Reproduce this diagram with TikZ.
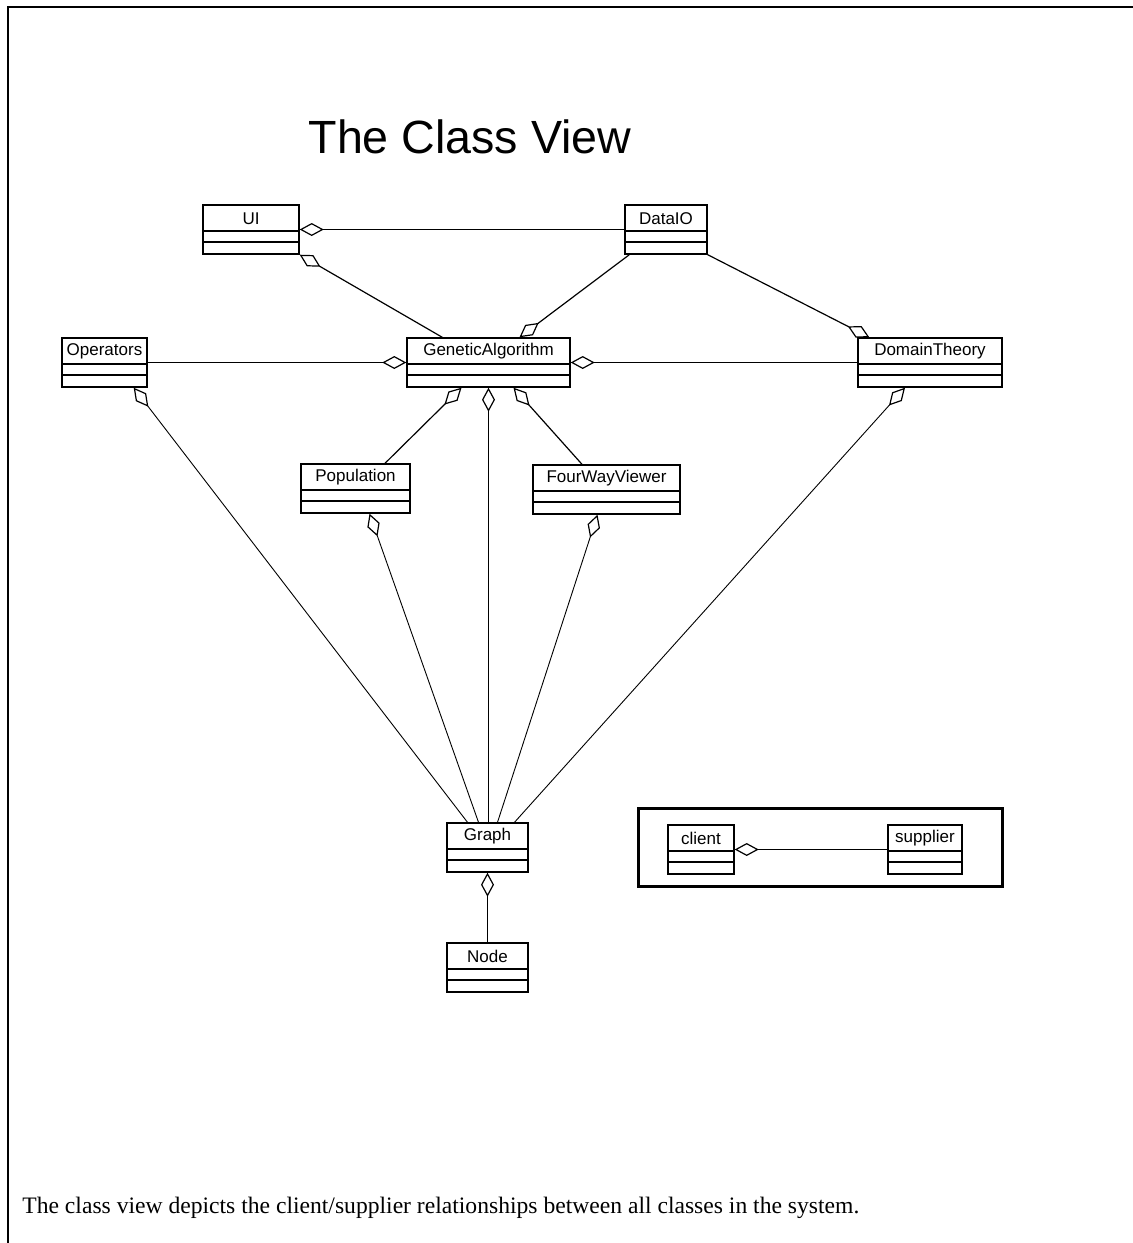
\documentclass[tikz,border=0pt]{standalone}
\usepackage{fontspec}
\setmainfont{Liberation Serif}
\newfontfamily\clsfont{Liberation Sans}
\usetikzlibrary{calc,arrows.meta}

% one class box: name, left x, top y, right x, label
\newcommand\umlclass[5]{%
  \node[umlbox, minimum width={(#4-#2)*0.5pt}] (#1) at ({(#2+#4)/2},{#3+24.5}) {};
  \node[umlname] (#1-name) at ($(#1.north)+(0,14)$) {#5};}

\begin{document}
\begin{tikzpicture}[x=0.5pt,y=-0.5pt,
  umlbox/.style={draw, line width=0.7pt, inner sep=0pt, minimum height=24.5pt,
    path picture={
      \draw[line width=0.7pt] ($(path picture bounding box.north west)+(0,26)$) -- ($(path picture bounding box.north east)+(0,26)$);
      \draw[line width=0.7pt] ($(path picture bounding box.north west)+(0,37)$) -- ($(path picture bounding box.north east)+(0,37)$);
    }},
  umlname/.style={font=\clsfont\fontsize{8.5}{10}\selectfont, inner sep=0pt},
  rel/.style={line width=0.6pt},
  farrel/.style={line width=0.45pt},
  agg/.tip={Diamond[open,length=12pt,width=6.5pt,line width=0.6pt]},
]
\useasboundingbox (0,0) rectangle (1133,1243);

% page frame
\draw[line width=1pt] (1133,7) -- (8,7) -- (8,1243);

% title
\node[font=\clsfont\fontsize{23.3}{28}\selectfont, anchor=base, inner sep=0pt] (title) at (470,153) {The Class View};

% classes
\umlclass{ui}{203}{205}{299}{UI}
\umlclass{dataio}{625}{205}{707}{DataIO}
\umlclass{op}{62}{338}{147}{Operators}
\umlclass{ga}{407}{338}{570}{GeneticAlgorithm}
\umlclass{dt}{858}{338}{1002}{DomainTheory}
\umlclass{pop}{301}{464}{410}{Population}
\umlclass{fwv}{533}{465}{680}{FourWayViewer}
\umlclass{graph}{447}{823}{528}{Graph}
\umlclass{nodecls}{447}{943}{528}{Node}

% legend
\node[draw, line width=1.5pt, minimum width=182pt, minimum height=39pt, inner sep=0pt] (legend) at (820,847) {};
\umlclass{client}{668}{825}{734}{client}
\umlclass{supplier}{888}{825}{962}{supplier}
\draw[rel, agg-] (client.east) -- (supplier.west);

% relationships
\draw[rel, agg-] (ui.east) -- (dataio.west);
\draw[rel, agg-] (ui.south east) -- ($(ga.north west)+(36,0)$);
\draw[rel, -agg] ($(dataio.south west)+(5,0)$) -- ($(ga.north)+(31,0)$);
\draw[rel, -agg] (dataio.south east) -- ($(dt.north west)+(12,0)$);
\draw[rel, -agg] (op.east) -- (ga.west);
\draw[rel, agg-] (ga.east) -- (dt.west);
\draw[rel, agg-] ($(ga.south)+(-27,0)$) -- ($(pop.north)+(29.5,0)$);
\draw[rel, agg-] ($(ga.south)+(25,0)$) -- ($(fwv.north)+(-24.5,0)$);
\draw[farrel, agg-] (ga.south) -- (ga.south |- graph.north);
\draw[farrel, agg-] ($(op.south east)+(-14,0)$) -- ($(graph.north)+(-20,0)$);
\draw[farrel, agg-] ($(pop.south)+(14,0)$) -- ($(graph.north)+(-9,0)$);
\draw[farrel, agg-] ($(fwv.south)+(-9,0)$) -- ($(graph.north)+(10,0)$);
\draw[farrel, agg-] ($(dt.south)+(-25,0)$) -- ($(graph.north)+(27,0)$);
\draw[farrel, agg-] (graph.south) -- (nodecls.north);

% caption
\node[anchor=base west, inner sep=0pt, font=\fontsize{11.8}{14}\selectfont] (caption) at (22,1213)
  {The class view depicts the client/supplier relationships between all classes in the system.};
\end{tikzpicture}
\end{document}
